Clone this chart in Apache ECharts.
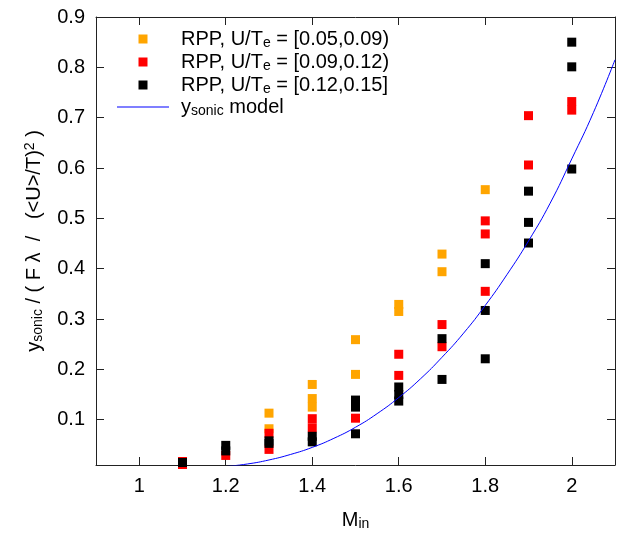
<!DOCTYPE html>
<html>
<head>
<meta charset="utf-8">
<script src="https://cdn.jsdelivr.net/npm/echarts@6/dist/echarts.min.js"></script>
<style>
  html, body { margin: 0; background: #fff; }
  #chart { width: 618px; height: 536px; }
</style>
</head>
<body>
<div id="chart"></div>
<script>
// --- data ---
const xTicks = [1, 1.2, 1.4, 1.6, 1.8, 2];
const yTicks = [0.1, 0.2, 0.3, 0.4, 0.5, 0.6, 0.7, 0.8, 0.9];

// RPP, U/Te = [0.05,0.09)
const lowPoints = [
  [1.1, 0.012], [1.3, 0.113], [1.3, 0.082], [1.4, 0.170], [1.4, 0.142], [1.4, 0.125],
  [1.5, 0.259], [1.5, 0.190], [1.6, 0.329], [1.6, 0.315], [1.7, 0.429], [1.7, 0.394],
  [1.8, 0.557]
];
// RPP, U/Te = [0.09,0.12)
const midPoints = [
  [1.1, 0.017], [1.1, 0.011], [1.2, 0.029], [1.3, 0.073], [1.3, 0.041], [1.4, 0.102],
  [1.4, 0.084], [1.5, 0.103], [1.6, 0.230], [1.6, 0.188], [1.7, 0.289], [1.7, 0.245],
  [1.8, 0.495], [1.8, 0.469], [1.8, 0.355], [1.9, 0.704], [1.9, 0.606], [2.0, 0.732],
  [2.0, 0.715]
];
// RPP, U/Te = [0.12,0.15]
const highPoints = [
  [1.1, 0.015], [1.2, 0.049], [1.2, 0.038], [1.3, 0.058], [1.3, 0.053], [1.4, 0.067],
  [1.4, 0.056], [1.5, 0.139], [1.5, 0.125], [1.5, 0.072], [1.6, 0.165], [1.6, 0.150],
  [1.6, 0.137], [1.7, 0.261], [1.7, 0.180], [1.8, 0.410], [1.8, 0.317], [1.8, 0.221],
  [1.9, 0.554], [1.9, 0.492], [1.9, 0.451], [2.0, 0.850], [2.0, 0.801], [2.0, 0.598]
];
// y_sonic model curve
const modelX = [1.20, 1.25, 1.30, 1.35, 1.40, 1.45, 1.50, 1.55, 1.60, 1.65, 1.70,
                1.75, 1.80, 1.85, 1.90, 1.95, 2.00, 2.05, 2.10];
const modelY = [0.007, 0.012, 0.020, 0.031, 0.045, 0.063, 0.085, 0.112, 0.144, 0.181, 0.224,
                0.272, 0.327, 0.388, 0.455, 0.530, 0.618, 0.710, 0.815];

const seriesNames = ['low', 'mid', 'high', 'model'];
const legendTexts = [
  'RPP, U/T{sub|e} = [0.05,0.09)',
  'RPP, U/T{sub|e} = [0.09,0.12)',
  'RPP, U/T{sub|e} = [0.12,0.15]',
  'y{sub|sonic} model'
];
const legendTops = [28, 51, 74, 96];

const chart = echarts.init(document.getElementById('chart'));
const font = 'Liberation Sans, Arial, sans-serif';
const sub = { fontSize: 14, fontFamily: font, color: '#000', lineHeight: 8, verticalAlign: 'bottom' };
const sup = { fontSize: 14, fontFamily: font, color: '#000', lineHeight: 8, verticalAlign: 'top' };
// zero-length subpaths pin the icon box to 52x10 so the shape keeps its place
const squareIcon = 'path://M0 0L0 0M52 10L52 10M21.5 0.5H30.5V9.5H21.5Z';
const lineIcon = 'path://M0 0L0 0M52 10L52 10M0 4.5H52V5.5H0Z';

const xAxisBase = {
  type: 'value', min: 0.9, max: 2.1,
  axisLine: { show: true, onZero: false, lineStyle: { color: '#222', width: 1 } },
  axisTick: { show: true, inside: true, length: 8, customValues: xTicks, lineStyle: { color: '#222' } },
  splitLine: { show: false }
};
const yAxisBase = {
  type: 'value', min: 0.01, max: 0.9,
  axisLine: { show: true, onZero: false, lineStyle: { color: '#222', width: 1 } },
  axisTick: { show: true, inside: true, length: 8, customValues: yTicks, lineStyle: { color: '#222' } },
  splitLine: { show: false }
};

const option = {
  animation: false,
  backgroundColor: '#fff',
  grid: { left: 96, right: 3, top: 17, bottom: 70 },
  legend: seriesNames.map((name, i) => ({
    data: [name === 'model'
      ? { name, icon: lineIcon, itemStyle: { color: '#0000FF' } }
      : { name, icon: squareIcon }],
    left: 117, top: legendTops[i], padding: 0,
    itemWidth: 52, itemHeight: 10, itemGap: 0,
    selectedMode: false,
    formatter: () => legendTexts[i],
    textStyle: { fontSize: 20, fontFamily: font, color: '#000', lineHeight: 22, padding: [0, 0, 0, 7], rich: { sub } }
  })),
  xAxis: [
    Object.assign({}, xAxisBase, {
      position: 'bottom',
      name: 'M{sub|in}', nameLocation: 'middle', nameGap: 44,
      nameTextStyle: { fontSize: 20, fontFamily: font, color: '#000', lineHeight: 22, rich: { sub } },
      axisLabel: { show: true, customValues: xTicks, margin: 11, fontSize: 20, fontFamily: font, color: '#000' }
    }),
    Object.assign({}, xAxisBase, { position: 'top', axisLabel: { show: false } })
  ],
  yAxis: [
    Object.assign({}, yAxisBase, {
      position: 'left',
      name: 'y{sub|sonic} / ( F λ  /   (<U>/T){sup|2} )', nameLocation: 'middle', nameGap: 51,
      nameTextStyle: { fontSize: 20, fontFamily: font, color: '#000', lineHeight: 22, rich: { sub, sup } },
      axisLabel: { show: true, customValues: yTicks, margin: 11, fontSize: 20, fontFamily: font, color: '#000' }
    }),
    Object.assign({}, yAxisBase, { position: 'right', axisLabel: { show: false } })
  ],
  series: [
    { name: 'low', type: 'scatter', symbol: 'rect', symbolSize: 9, itemStyle: { color: '#FFA500', opacity: 1 }, data: lowPoints },
    { name: 'mid', type: 'scatter', symbol: 'rect', symbolSize: 9, itemStyle: { color: '#FF0000', opacity: 1 }, data: midPoints },
    { name: 'high', type: 'scatter', symbol: 'rect', symbolSize: 9, itemStyle: { color: '#000000', opacity: 1 }, data: highPoints },
    {
      name: 'model', type: 'line', symbol: 'none', smooth: true, clip: true,
      itemStyle: { color: '#0000FF' },
      lineStyle: { color: '#0000FF', width: 1 },
      data: modelX.map((x, i) => [x, modelY[i]])
    }
  ]
};
chart.setOption(option);
</script>
</body>
</html>
